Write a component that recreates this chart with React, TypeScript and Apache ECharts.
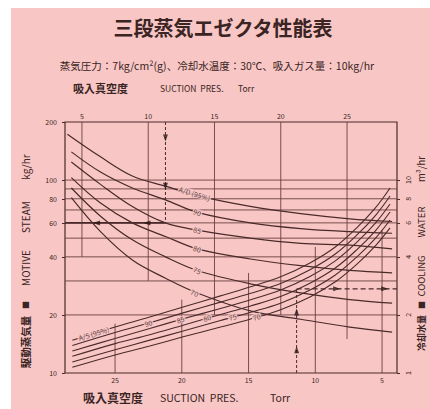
import React, { useEffect, useRef } from "react";
import * as echarts from "echarts";

// ---- axis ticks ----
const topTicks = [5, 10, 15, 20, 25];
const bottomTicks = [25, 20, 15, 10, 5];
const leftTicks = [10, 20, 40, 60, 80, 100, 200];
const rightTicks = [1, 2, 4, 6, 8, 10];
const gridValues = [20, 30, 40, 50, 60, 70, 80, 90, 100];
const topGridEnd = [40, 30, 20, 20, 15];
const bottomGridEnd = [18, 24, 33, 45, 55];

// ---- motive steam curves (top axis, left axis) ----
const suctionTop = [4.2, 6.4, 8.8, 11.3, 13.7, 17.7, 21.5, 25.2, 28.4];
const steamStart = [3.9, 4.2, 4.2, 4.2, 4.2, 4.2];
const steam95 = [173, 132, 105, 93, 83, 73, 67, 63, 61];
const steam90 = [140, 110, 91, 79, 68, 60, 56, 54, 53];
const steam85 = [124, 95, 73, 60, 55, 50, 47, 46, 44];
const steam80 = [103, 76, 60, 51, 44, 39, 36, 34, 33];
const steam75 = [91, 65, 49, 40, 34, 29, 26, 24, 23];
const steam70 = [81, 54, 38.5, 31, 26, 21, 19, 17.3, 16.3];
const steamNames = ["A/D (95%)", "90", "85", "80", "75", "70"];
const steamLabelSuction = [13.5, 13.7, 13.7, 13.7, 13.7, 13.5];
const steamLabelValue = [85, 68, 55, 44, 34, 26];
const steamLabelRotate = [-17, -22, -16, -19, -24, -24];

// ---- cooling water curves (bottom axis, right axis) ----
const suctionBottom = [28.2, 25.0, 22.4, 19.9, 17.1, 14.9, 12.6, 10.4, 8.5, 6.9, 5.5, 4.4];
const cool95 = [1.48, 1.73, 1.95, 2.2, 2.51, 2.79, 3.15, 3.72, 4.5, 5.65, 7.17, 9.1];
const cool90 = [1.39, 1.62, 1.82, 2.05, 2.33, 2.58, 2.91, 3.43, 4.14, 5.18, 6.55, 8.27];
const cool85 = [1.3, 1.51, 1.7, 1.91, 2.16, 2.39, 2.69, 3.16, 3.81, 4.75, 5.98, 7.52];
const cool80 = [1.22, 1.42, 1.58, 1.77, 2.01, 2.22, 2.49, 2.92, 3.5, 4.35, 5.46, 6.83];
const cool75 = [1.14, 1.32, 1.48, 1.65, 1.87, 2.06, 2.3, 2.69, 3.22, 3.99, 4.99, 6.21];
const cool70 = [1.07, 1.24, 1.38, 1.54, 1.73, 1.9, 2.13, 2.48, 2.97, 3.66, 4.56, 5.65];
const coolNames = ["A/S (95%)", "90", "85", "80", "75", "70"];
const coolLabelSuction = [26.6, 22.5, 20.1, 18.1, 16.2, 14.4];
const coolLabelValue = [1.6, 1.81, 1.89, 1.93, 1.95, 1.95];

// ---- worked example ----
const exampleSuctionTop = 11.3;
const exampleSteam = 60;
const exampleSuctionBottom = 11.4;
const exampleWater = 2.73;
const downArrowSteam = [165, 93];
const leftArrowSuction = [6.1, 9.9];
const upArrowWater = [1.32, 2.07];
const rightArrowSuction = [8.4, 4.8];

const LINE = "#4a2a2a";
const GRIDC = "#6a3f3f";
const TXT = "#3a2424";
const PINK = "#f8c7c5";
const FONT = '"Noto Sans CJK JP", "Noto Sans", sans-serif';

const L = (v: number) => Math.log10(v);

export default function App() {
  const ref = useRef<HTMLDivElement>(null);
  useEffect(() => {
    if (!ref.current) return;
    const chart = echarts.init(ref.current, undefined, { renderer: "svg" });
    const topMin = 3.72, topMax = 28.77;
    const botMin = 3.88, botMax = 28.75;

    const series: any[] = [];
    gridValues.forEach((v) => {
      series.push({
        type: "line", xAxisIndex: 0, yAxisIndex: 0, symbol: "none", silent: true, z: 1,
        data: [[topMin, L(v)], [topMax, L(v)]],
        lineStyle: { color: GRIDC, width: 0.9 },
      });
    });
    topTicks.forEach((t, i) => {
      series.push({
        type: "line", xAxisIndex: 0, yAxisIndex: 0, symbol: "none", silent: true, z: 1,
        data: [[t, L(200)], [t, L(topGridEnd[i])]],
        lineStyle: { color: GRIDC, width: 0.9 },
      });
    });
    bottomTicks.forEach((t, i) => {
      series.push({
        type: "line", xAxisIndex: 1, yAxisIndex: 0, symbol: "none", silent: true, z: 1,
        data: [[t, L(10)], [t, L(bottomGridEnd[i])]],
        lineStyle: { color: GRIDC, width: 0.9 },
      });
    });
    [steam95, steam90, steam85, steam80, steam75, steam70].forEach((arr, k) => {
      series.push({
        type: "line", xAxisIndex: 0, yAxisIndex: 0, symbol: "none", smooth: 0.35, silent: true, z: 3,
        data: arr.map((v, i) => [i === 0 ? steamStart[k] : suctionTop[i], L(v)]),
        lineStyle: { color: LINE, width: 1.2 },
      });
    });
    [cool95, cool90, cool85, cool80, cool75, cool70].forEach((arr) => {
      series.push({
        type: "line", xAxisIndex: 1, yAxisIndex: 1, symbol: "none", smooth: 0.35, silent: true, z: 3,
        data: arr.map((v, i) => [suctionBottom[i], L(v)]),
        lineStyle: { color: LINE, width: 1.1 },
      });
    });
    series.push({
      type: "line", xAxisIndex: 0, yAxisIndex: 0, symbol: "none", silent: true, z: 4,
      data: [[exampleSuctionTop, L(200)], [exampleSuctionTop, L(exampleSteam)]],
      lineStyle: { color: LINE, width: 1, type: [3, 2] },
    });
    series.push({
      type: "line", xAxisIndex: 0, yAxisIndex: 0, symbol: "none", silent: true, z: 4,
      data: [[exampleSuctionTop, L(exampleSteam)], [topMin, L(exampleSteam)]],
      lineStyle: { color: LINE, width: 1.8 },
    });
    series.push({
      type: "line", xAxisIndex: 1, yAxisIndex: 1, symbol: "none", silent: true, z: 4,
      data: [[exampleSuctionBottom, L(1)], [exampleSuctionBottom, L(exampleWater)]],
      lineStyle: { color: LINE, width: 1, type: [3, 2] },
    });
    series.push({
      type: "line", xAxisIndex: 1, yAxisIndex: 1, symbol: "none", silent: true, z: 4,
      data: [[exampleSuctionBottom, L(exampleWater)], [botMin, L(exampleWater)]],
      lineStyle: { color: LINE, width: 1.2, type: [5, 3] },
    });
    series.push({
      type: "scatter", xAxisIndex: 0, yAxisIndex: 0, symbol: "triangle", symbolSize: [5, 7], silent: true, z: 6,
      itemStyle: { color: "#2a1616" },
      data: [
        ...downArrowSteam.map((v) => ({ value: [exampleSuctionTop, L(v)], symbolRotate: 180 })),
        ...leftArrowSuction.map((t) => ({ value: [t, L(exampleSteam)], symbolRotate: 90 })),
      ],
    });
    series.push({
      type: "scatter", xAxisIndex: 1, yAxisIndex: 1, symbol: "triangle", symbolSize: [5, 7], silent: true, z: 6,
      itemStyle: { color: "#2a1616" },
      data: [
        ...upArrowWater.map((v) => ({ value: [exampleSuctionBottom, L(v)], symbolRotate: 0 })),
        ...rightArrowSuction.map((b) => ({ value: [b, L(exampleWater)], symbolRotate: -90 })),
      ],
    });
    const lbl = { show: true, position: "inside", color: TXT, fontSize: 7, fontFamily: FONT, backgroundColor: PINK, padding: [0, 1] };
    series.push({
      type: "scatter", xAxisIndex: 0, yAxisIndex: 0, symbolSize: 2, silent: true, z: 7,
      itemStyle: { color: "rgba(0,0,0,0)" },
      data: steamNames.map((n, i) => ({
        value: [steamLabelSuction[i], L(steamLabelValue[i])],
        label: { ...lbl, formatter: n, rotate: steamLabelRotate[i] },
      })),
    });
    series.push({
      type: "scatter", xAxisIndex: 1, yAxisIndex: 1, symbolSize: 2, silent: true, z: 7,
      itemStyle: { color: "rgba(0,0,0,0)" },
      data: coolNames.map((n, i) => ({
        value: [coolLabelSuction[i], L(coolLabelValue[i])],
        label: { ...lbl, formatter: n, rotate: 17 },
      })),
    });

    const axisLbl = { color: TXT, fontSize: 7, fontFamily: FONT };
    const fmtLog = (v: number) => String(Math.round(Math.pow(10, v)));

    const txt = (text: string, x: number, y: number, size: number, extra: any = {}) => ({
      type: "text", x, y, z: 10, rotation: extra.rotation || 0,
      style: {
        text, fill: TXT, fontSize: size, fontFamily: FONT, fontWeight: extra.weight || "normal",
        textAlign: extra.align || "center", align: extra.align || "center",
        textVerticalAlign: "middle", verticalAlign: "middle",
      },
    });
    const V = Math.PI / 2;

    chart.setOption({
      animation: false,
      backgroundColor: "#ffffff",
      textStyle: { fontFamily: FONT },
      grid: { left: 65, right: 33, top: 122, bottom: 36, show: true, borderColor: LINE, borderWidth: 1.2, backgroundColor: "transparent" },
      xAxis: [
        {
          type: "value", position: "top", min: topMin, max: topMax,
          axisLine: { show: false }, splitLine: { show: false },
          axisTick: { show: false, customValues: topTicks },
          axisLabel: { ...axisLbl, margin: 3, customValues: topTicks },
        },
        {
          type: "value", position: "bottom", inverse: true, min: botMin, max: botMax,
          axisLine: { show: false }, splitLine: { show: false },
          axisTick: { show: false, customValues: bottomTicks },
          axisLabel: { ...axisLbl, margin: 3, customValues: bottomTicks },
        },
      ],
      yAxis: [
        {
          type: "value", position: "left", min: L(10), max: L(200),
          axisLine: { show: false }, splitLine: { show: false },
          axisTick: { show: true, length: 3, customValues: leftTicks.map(L), lineStyle: { color: LINE } },
          axisLabel: { ...axisLbl, margin: 8, customValues: leftTicks.map(L), formatter: fmtLog },
        },
        {
          type: "value", position: "right", min: L(1), max: L(20),
          axisLine: { show: false }, splitLine: { show: false },
          axisTick: { show: true, length: 3, customValues: rightTicks.map(L), lineStyle: { color: LINE } },
          axisLabel: { ...axisLbl, margin: 7, rotate: 90, customValues: rightTicks.map(L), formatter: fmtLog },
        },
      ],
      graphic: [
        { type: "rect", z: -100, shape: { x: 11, y: 8, width: 419, height: 401 }, style: { fill: PINK } },
        txt("三段蒸気エゼクタ性能表", 223, 27, 20, { weight: "bold" }),
        txt("蒸気圧力：7kg/cm²(g)、冷却水温度：30℃、吸入ガス量：10kg/hr", 217, 65, 10.5),
        txt("吸入真空度", 73, 88, 11, { align: "left", weight: "bold" }),
        txt("SUCTION  PRES.", 160, 88, 8.5, { align: "left" }),
        txt("Torr", 238, 88, 8.5, { align: "left" }),
        txt("吸入真空度", 83, 397, 12, { align: "left", weight: "bold" }),
        txt("SUCTION  PRES.", 160, 397, 10.5, { align: "left" }),
        txt("Torr", 270, 397, 10.5, { align: "left" }),
        txt("kg/hr", 25, 167, 10, { rotation: V }),
        txt("STEAM", 25, 217, 10, { rotation: V }),
        txt("MOTIVE", 25, 268, 10, { rotation: V }),
        txt("■", 25, 305, 8, { rotation: V }),
        txt("駆動蒸気量", 25, 342, 10.5, { rotation: V, weight: "bold" }),
        txt("m³/hr", 421, 169, 9.5, { rotation: V }),
        txt("WATER", 421, 222, 9.5, { rotation: V }),
        txt("COOLING", 421, 276, 9.5, { rotation: V }),
        txt("■", 421, 305, 8, { rotation: V }),
        txt("冷却水量", 421, 333, 9, { rotation: V, weight: "bold" }),
      ],
      series,
    });
    return () => chart.dispose();
  }, []);
  return <div ref={ref} style={{ position: "absolute", left: 0, top: 0, width: 430, height: 409 }} />;
}
